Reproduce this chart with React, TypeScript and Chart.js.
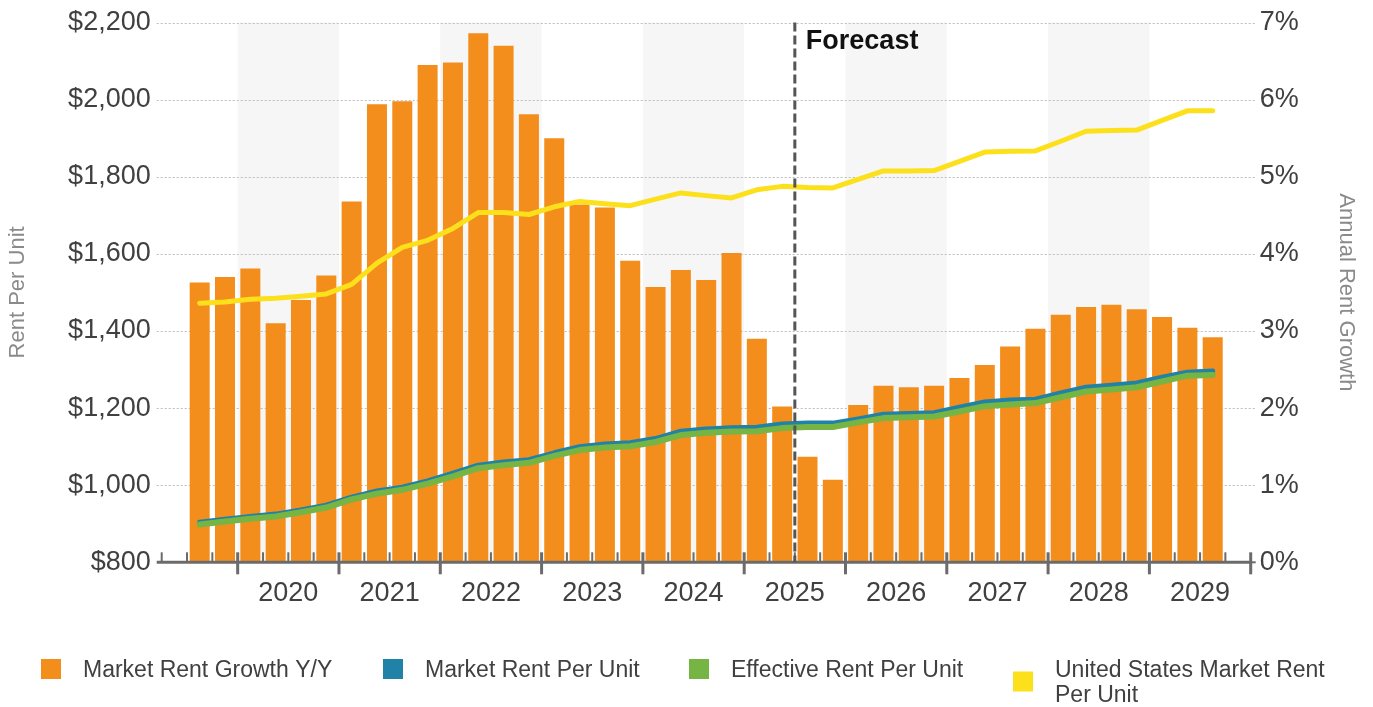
import React, { useEffect, useRef } from 'react';
import { Chart, registerables } from 'chart.js';

Chart.register(...registerables);

// Quarterly slots on the category axis (first and last slot are empty padding quarters)
const quarters = [
  '2019 Q2', '2019 Q3', '2019 Q4',
  '2020 Q1', '2020 Q2', '2020 Q3', '2020 Q4',
  '2021 Q1', '2021 Q2', '2021 Q3', '2021 Q4',
  '2022 Q1', '2022 Q2', '2022 Q3', '2022 Q4',
  '2023 Q1', '2023 Q2', '2023 Q3', '2023 Q4',
  '2024 Q1', '2024 Q2', '2024 Q3', '2024 Q4',
  '2025 Q1', '2025 Q2', '2025 Q3', '2025 Q4',
  '2026 Q1', '2026 Q2', '2026 Q3', '2026 Q4',
  '2027 Q1', '2027 Q2', '2027 Q3', '2027 Q4',
  '2028 Q1', '2028 Q2', '2028 Q3', '2028 Q4',
  '2029 Q1', '2029 Q2', '2029 Q3', '2029 Q4',
];

const yearLabels = ['2020', '2021', '2022', '2023', '2024', '2025', '2026', '2027', '2028', '2029'];

const forecastStart = '2025 Q3';

// Market Rent Growth Y/Y (%)
const marketRentGrowth = [
  null,
  3.63, 3.70,
  3.81, 3.10, 3.40, 3.72,
  4.68, 5.94, 5.98, 6.45,
  6.48, 6.86, 6.70, 5.81,
  5.50, 4.64, 4.60, 3.91,
  3.57, 3.79, 3.66, 4.01,
  2.90, 2.02, 1.37, 1.07,
  2.04, 2.29, 2.27, 2.29,
  2.39, 2.56, 2.80, 3.03,
  3.21, 3.31, 3.34, 3.28,
  3.18, 3.04, 2.92,
  null,
];

// Market Rent Per Unit ($)
const marketRentPerUnit = [
  null,
  904, 912,
  919, 925, 936, 948,
  969, 985, 995, 1011,
  1031, 1052, 1060, 1066,
  1084, 1100, 1107, 1110,
  1121, 1140, 1146, 1149,
  1150, 1159, 1161, 1161,
  1172, 1184, 1186, 1188,
  1202, 1216, 1221, 1223,
  1239, 1254, 1259, 1265,
  1280, 1293, 1296,
  null,
];

// Effective Rent Per Unit ($)
const effectiveRentPerUnit = [
  null,
  898, 906,
  913, 919, 930, 942,
  963, 978, 988, 1004,
  1023, 1044, 1052, 1058,
  1076, 1091, 1098, 1101,
  1112, 1130, 1136, 1139,
  1140, 1148, 1151, 1151,
  1163, 1174, 1176, 1178,
  1191, 1205, 1209, 1213,
  1228, 1243, 1248, 1254,
  1269, 1284, 1286,
  null,
];

// United States Market Rent Per Unit ($)
const usMarketRentPerUnit = [
  null,
  1472, 1475,
  1482, 1485, 1490, 1496,
  1521, 1576, 1617, 1635,
  1666, 1707, 1707, 1702,
  1722, 1736, 1730, 1725,
  1742, 1758, 1751, 1745,
  1766, 1775, 1772, 1771,
  1793, 1815, 1815, 1816,
  1840, 1864, 1866, 1867,
  1892, 1918, 1920, 1921,
  1946, 1971, 1971,
  null,
];

const FONT = '"Liberation Sans", Arial, Helvetica, sans-serif';
const TEXT = '#404040';
const AXIS = '#6b6b6b';

const COLORS = {
  growth: '#F38E1D',
  market: '#1F82A6',
  effective: '#76B444',
  us: '#FCE01B',
};

// Draws the year bands, dotted gridlines, quarter/year axis, forecast marker, titles and legend
const decorations = {
  id: 'decorations',
  beforeDatasetsDraw(chart: any) {
    const { ctx, chartArea, scales } = chart;
    const x = scales.x;
    const y = scales.y;
    const w = (chartArea.right - chartArea.left) / quarters.length;
    const edge = (i: number) => x.getPixelForValue(i) - w / 2;
    const first = quarters.indexOf(yearLabels[0] + ' Q1');

    ctx.save();
    ctx.fillStyle = '#f6f6f6';
    yearLabels.forEach((_, k) => {
      if (k % 2 === 0) {
        const s = edge(first + 4 * k);
        ctx.fillRect(s, chartArea.top, 4 * w, chartArea.bottom - chartArea.top);
      }
    });

    ctx.strokeStyle = '#bdbdbd';
    ctx.lineWidth = 1;
    ctx.setLineDash([2, 2]);
    y.ticks.forEach((t: any) => {
      if (t.value === y.min) return;
      const py = Math.round(y.getPixelForValue(t.value)) + 0.5;
      ctx.beginPath();
      ctx.moveTo(chartArea.left - 5, py);
      ctx.lineTo(chartArea.right + 5, py);
      ctx.stroke();
    });
    ctx.restore();
  },
  afterDatasetsDraw(chart: any) {
    const { ctx, chartArea, scales } = chart;
    const x = scales.x;
    const w = (chartArea.right - chartArea.left) / quarters.length;
    const edge = (i: number) => x.getPixelForValue(i) - w / 2;
    const first = quarters.indexOf(yearLabels[0] + ' Q1');
    const base = chartArea.bottom;

    ctx.save();
    // axis line
    ctx.strokeStyle = AXIS;
    ctx.lineWidth = 3;
    ctx.beginPath();
    ctx.moveTo(chartArea.left - 5, base);
    ctx.lineTo(chartArea.right, base);
    ctx.stroke();

    // quarter ticks and year ticks
    for (let i = 0; i <= quarters.length; i++) {
      const px = i < quarters.length ? edge(i) : edge(i - 1) + w;
      const isYear = i >= first && (i - first) % 4 === 0;
      ctx.lineWidth = isYear ? 3 : 2;
      ctx.beginPath();
      ctx.moveTo(px, base - 10);
      ctx.lineTo(px, isYear ? base + 12 : base);
      ctx.stroke();
    }
    ctx.beginPath();
    ctx.lineWidth = 2;
    ctx.moveTo(chartArea.right, base);
    ctx.lineTo(chartArea.right + 5, base);
    ctx.stroke();

    // year labels
    ctx.fillStyle = TEXT;
    ctx.font = `27px ${FONT}`;
    ctx.textAlign = 'center';
    ctx.textBaseline = 'alphabetic';
    yearLabels.forEach((yr, k) => {
      const cx = edge(first + 4 * k) + 2 * w;
      ctx.fillText(yr, cx, base + 39);
    });

    // forecast marker
    const fx = edge(quarters.indexOf(forecastStart));
    ctx.strokeStyle = '#555555';
    ctx.lineWidth = 3;
    ctx.setLineDash([9, 4]);
    ctx.beginPath();
    ctx.moveTo(fx, chartArea.top);
    ctx.lineTo(fx, base);
    ctx.stroke();
    ctx.setLineDash([]);
    ctx.fillStyle = '#111111';
    ctx.font = `bold 27px ${FONT}`;
    ctx.textAlign = 'left';
    ctx.fillText('Forecast', fx + 11, chartArea.top + 26);

    // axis titles
    ctx.fillStyle = '#8a8a8a';
    ctx.font = `22px ${FONT}`;
    ctx.textAlign = 'center';
    ctx.textBaseline = 'middle';
    const midY = (chartArea.top + base) / 2;
    ctx.save();
    ctx.translate(18, midY);
    ctx.rotate(-Math.PI / 2);
    ctx.fillText('Rent Per Unit', 0, 0);
    ctx.restore();
    ctx.save();
    ctx.translate(1346, midY);
    ctx.rotate(Math.PI / 2);
    ctx.fillText('Annual Rent Growth', 0, 0);
    ctx.restore();

    // legend
    const legendX = [41, 383, 689, 1013];
    const order = [0, 2, 3, 1];
    ctx.font = `23px ${FONT}`;
    ctx.textAlign = 'left';
    ctx.textBaseline = 'alphabetic';
    order.forEach((di, k) => {
      const ds = chart.data.datasets[di];
      const words = String(ds.label).split(' ');
      const lines: string[] = [];
      let cur = '';
      words.forEach((wd) => {
        const test = cur ? cur + ' ' + wd : wd;
        if (cur && ctx.measureText(test).width > 285) {
          lines.push(cur);
          cur = wd;
        } else cur = test;
      });
      lines.push(cur);
      const lx = legendX[k];
      const boxTop = 659 + (lines.length - 1) * 12.5;
      ctx.fillStyle = ds.legendColor;
      ctx.fillRect(lx, boxTop, 20, 20);
      ctx.fillStyle = TEXT;
      lines.forEach((ln, j) => ctx.fillText(ln, lx + 42, 677 + j * 25));
    });
    ctx.restore();
  },
};

export default function App() {
  const ref = useRef<HTMLCanvasElement>(null);

  useEffect(() => {
    if (!ref.current) return;
    Chart.defaults.font.family = FONT;
    const chart = new Chart(ref.current, {
      type: 'bar',
      data: {
        labels: quarters,
        datasets: [
          {
            type: 'bar',
            label: 'Market Rent Growth Y/Y',
            data: marketRentGrowth,
            backgroundColor: COLORS.growth,
            legendColor: COLORS.growth,
            yAxisID: 'yPct',
            barPercentage: 0.79,
            categoryPercentage: 1,
            order: 4,
          } as any,
          {
            type: 'line',
            label: 'United States Market Rent Per Unit',
            data: usMarketRentPerUnit,
            borderColor: COLORS.us,
            legendColor: COLORS.us,
            borderWidth: 5,
            borderCapStyle: 'round',
            borderJoinStyle: 'round',
            pointRadius: 0,
            tension: 0,
            yAxisID: 'y',
            order: 3,
          } as any,
          {
            type: 'line',
            label: 'Market Rent Per Unit',
            data: marketRentPerUnit,
            borderColor: COLORS.market,
            legendColor: COLORS.market,
            borderWidth: 5,
            borderCapStyle: 'round',
            borderJoinStyle: 'round',
            pointRadius: 0,
            tension: 0,
            yAxisID: 'y',
            order: 2,
          } as any,
          {
            type: 'line',
            label: 'Effective Rent Per Unit',
            data: effectiveRentPerUnit,
            borderColor: COLORS.effective,
            legendColor: COLORS.effective,
            borderWidth: 6,
            borderCapStyle: 'round',
            borderJoinStyle: 'round',
            pointRadius: 0,
            tension: 0,
            yAxisID: 'y',
            order: 1,
          } as any,
        ],
      },
      options: {
        responsive: false,
        devicePixelRatio: 1,
        animation: false,
        layout: { padding: { top: 22.5, left: 0, right: 0, bottom: 0 } },
        plugins: {
          legend: { display: false },
          tooltip: { enabled: false },
        },
        scales: {
          x: {
            type: 'category',
            offset: true,
            grid: { display: false },
            border: { display: false },
            ticks: { display: false },
            afterFit: (s: any) => {
              s.height = 144.7;
              s.paddingLeft = 0;
              s.paddingRight = 0;
            },
          },
          y: {
            position: 'left',
            min: 800,
            max: 2200,
            ticks: {
              stepSize: 200,
              padding: 11,
              color: TEXT,
              font: { size: 27, family: FONT },
              callback: (v: any) => '$' + Number(v).toLocaleString('en-US'),
            },
            grid: { display: false, drawTicks: false },
            border: { display: false },
            afterFit: (s: any) => {
              s.width = 161.7;
              s.paddingTop = 0;
              s.paddingBottom = 0;
            },
          },
          yPct: {
            position: 'right',
            min: 0,
            max: 7,
            ticks: {
              stepSize: 1,
              padding: 9,
              color: TEXT,
              font: { size: 27, family: FONT },
              callback: (v: any) => v + '%',
            },
            grid: { display: false, drawTicks: false },
            border: { display: false },
            afterFit: (s: any) => {
              s.width = 122.3;
              s.paddingTop = 0;
              s.paddingBottom = 0;
            },
          },
        },
      } as any,
      plugins: [decorations],
    });
    return () => chart.destroy();
  }, []);

  return (
    <div style={{ position: 'fixed', left: 0, top: 0, width: 1373, height: 707, background: '#ffffff' }}>
      <canvas ref={ref} width={1373} height={707} style={{ display: 'block' }} />
    </div>
  );
}
